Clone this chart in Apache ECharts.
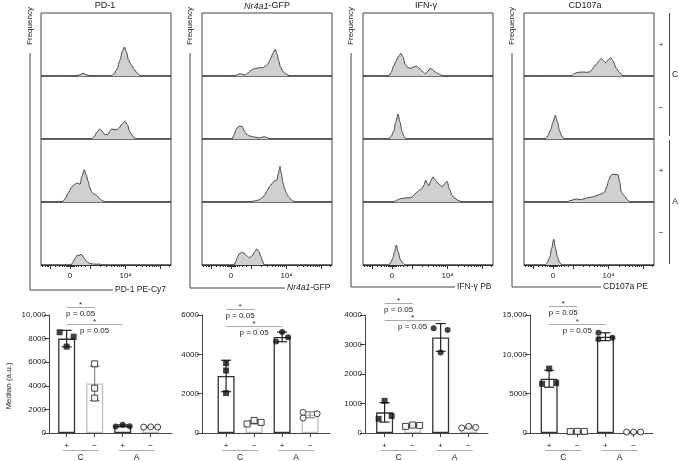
<!DOCTYPE html>
<html><head><meta charset="utf-8">
<script src="https://cdn.jsdelivr.net/npm/echarts@6/dist/echarts.min.js"></script>
<style>html,body{margin:0;padding:0;background:#fff}#c{width:679px;height:461px}</style>
</head><body><div id="c"></div>
<script>
// ================= DATA =================
const markers = ['PD-1', 'Nr4a1-GFP', 'IFN-γ', 'CD107a'];
const histAxisTitles = ['PD-1 PE-Cy7', 'Nr4a1-GFP', 'IFN-γ PB', 'CD107a PE'];
const conditions = ['+', '−', '+', '−'];
const groups = ['C', 'A'];
const histTickLabels = ['0', '10⁴'];
const histTickValues = [29, 84.6];

// histogram curves: [channel (display scale), normalized frequency], rows C+, C−, A+, A−
const histPD1 = [
  [[0,0],[34,0],[38,1],[42,2.7],[46,1],[50,0],[70,0],[73,2],[76,7],[79,16],[81.5,25],[83.5,29],[85.5,24],[87.5,16],[90,11.5],[93,7],[96,3],[99,0.5],[101,0],[130,0]],
  [[0,0],[50,0],[53,2],[56,7],[58.7,10],[61,8],[63,5],[66.7,4.3],[69,8],[70.7,10],[73,9.5],[75.7,9.3],[78,11],[81,15],[84,17.7],[86.5,14],[88.5,8],[90.7,4.3],[93,1.5],[95,0],[130,0]],
  [[0,0],[21,0],[24,3],[27.3,9],[30,14],[32.3,16.7],[35,18.5],[36.7,19],[39,17.7],[41,26],[43.3,32.3],[45.3,27],[47,21],[49,14],[50.7,10],[53,8],[55.7,6.7],[58,4],[60.7,1.7],[63,0.5],[65,0],[130,0]],
  [[0,0],[30,0],[32,3],[34,6.7],[36.3,10],[38,9.3],[40,10.7],[41.5,9.5],[43.3,6.7],[45.3,4],[47.3,2.3],[50,1.2],[52.3,1],[56,0.8],[59,1],[61.3,0],[130,0]]
];
const histNr4a1 = [
  [[0,0],[33,0],[35.5,1.5],[38.3,2.3],[41,1.5],[43.3,1],[46,3],[49,5.7],[52.3,7.3],[55,7.8],[57.3,8.3],[60.7,8.3],[63.5,10],[65.7,11.7],[67.5,15],[69,18.3],[71,23],[73.3,26.7],[75,22],[76.7,15],[78.5,9],[80.7,5],[82.7,3],[84.7,1.7],[87,0.5],[89,0],[130,0]],
  [[0,0],[30,0],[32,4],[34,9.3],[36,12],[37.5,12.7],[40,12.7],[41.2,10.5],[42.3,7.7],[44.5,5],[46.7,3.3],[49.5,2.6],[52.3,2],[55,1.5],[57.3,1],[60,1.8],[62.3,2.3],[64,1.8],[65.7,1],[67.5,0.3],[69,0],[130,0]],
  [[0,0],[40.7,0],[46,0.4],[50.7,0.7],[54,1.3],[57.3,2.3],[60,4],[62.3,6.7],[65,11],[67.3,15],[70,18.5],[72.3,21],[74.7,21.7],[76.3,28],[78,35.7],[79.3,29],[80.7,20],[82.7,13],[84.7,8.3],[87,4.5],[89,2.3],[91.5,0.8],[94,0],[130,0]],
  [[0,0],[32,0],[34,4],[35.7,8.3],[37.5,11.5],[39.7,12.7],[42,11.8],[44.5,9.5],[47.3,7.3],[50,9],[52.5,13],[54.7,16],[56.8,13.5],[59,8.3],[60.8,3.5],[62.3,0],[130,0]]
];
const histIFNg = [
  [[0,0],[25.7,0],[28,3.5],[30.7,10],[33,15],[35.5,20],[38,22.7],[40,19],[42.3,11.7],[44.5,8.8],[47.3,7.7],[50,8.8],[53.3,10],[56,8],[59,5],[62.3,2.3],[64.5,4.5],[67.3,7.7],[69.5,6.5],[72.3,4],[75,2.5],[78,1],[80.7,0],[130,0]],
  [[0,0],[25.7,0],[28,2.5],[30.7,7.7],[32.8,17],[35,25],[37,17],[39,7.7],[41,2.5],[43.3,0],[130,0]],
  [[0,0],[30.7,0],[33.5,1.8],[37.3,3.3],[42,4],[48,4.3],[51,7],[54,10],[56.5,11.8],[59,13.3],[61,17],[62.7,21.7],[64.2,19],[65.7,16],[67.8,21],[70,25],[72.3,22],[74.7,19],[77,17],[79,15],[81.5,18],[84,20.7],[86.5,13],[89,6.7],[92,3.5],[96,1.2],[100,0],[130,0]],
  [[0,0],[25.7,0],[27.8,2.5],[29.7,6.7],[31.5,13],[33.3,20],[35.2,13],[37.3,5.7],[39.8,1.8],[42.3,0],[130,0]]
];
const histCD107a = [
  [[0,0],[47.3,0],[50,2],[52.3,3.3],[55.5,3.8],[59,4],[62.3,3.7],[65.7,4],[68,6.5],[70.7,10],[73,12.5],[75.3,15.5],[77.3,17.3],[79.5,15.5],[81.7,13.3],[84,16],[86.7,18.3],[89,15],[92.3,7.7],[95.5,3.5],[99,0],[130,0]],
  [[0,0],[21.3,0],[24,3.5],[26.7,9.3],[29,17],[31.3,23.7],[33.5,17],[35.7,7.7],[38,2.5],[40.7,0],[130,0]],
  [[0,0],[42.3,0],[47,1.5],[50,2.5],[52.3,3],[55,2.6],[57.3,2.3],[60.5,3.3],[64,4.3],[67,4.8],[70.7,5.7],[73,6.5],[75.7,7.7],[78,8.5],[80.7,10],[82.7,15],[84.7,21.7],[86.5,26],[88,27.7],[91,27.7],[94,27.2],[95.7,20],[97.3,10],[99,7.8],[100.7,5.7],[103,2.5],[105.7,0],[130,0]],
  [[0,0],[21.3,0],[23.5,3],[25.7,7.7],[27.7,17],[29.7,25.7],[31.5,17],[33.3,8.3],[35.7,2.5],[38,0],[130,0]]
];

// bar panels: median (a.u.), SD, and individual replicates per condition (C+, C−, A+, A−)
const medianPD1 = [8000, 4200, 610, 510];
const sdPD1 = [700, 1450, 80, 15];
const pointsPD1 = [[8540, 7320, 8160], [5860, 3800, 2960], [560, 700, 570], [500, 520, 500]];
const medianNr4a1 = [2900, 545, 4885, 930];
const sdNr4a1 = [800, 90, 245, 150];
const pointsNr4a1 = [[3550, 3175, 2030], [460, 640, 540], [4650, 5140, 4870], [1045, 760, 980]];
const medianIFNg = [700, 250, 3240, 195];
const sdIFNg = [330, 25, 470, 25];
const pointsIFNg = [[480, 1090, 575], [225, 270, 257], [3550, 2725, 3490], [170, 225, 190]];
const medianCD107a = [6900, 195, 12240, 123];
const sdCD107a = [1080, 15, 500, 5];
const pointsCD107a = [[6250, 8190, 6340], [180, 210, 190], [12750, 11910, 12120], [120, 130, 120]];
const yTicksPD1 = [0, 2000, 4000, 6000, 8000, 10000];
const yTicksNr4a1 = [0, 2000, 4000, 6000];
const yTicksIFNg = [0, 1000, 2000, 3000, 4000];
const yTicksCD107a = [0, 5000, 10000, 15000];
const pLabel = 'p = 0.05';
const starLabel = '*';

// ================= LAYOUT / STYLE =================
const FONT = "'Liberation Sans', Arial, sans-serif";
const TXT = '#222';
const colLeft = [41, 202, 363, 524];
const rowTop = [13, 76, 139, 202];
const histW = 130, histH = 63;
const majorTicks = [9, 29, 49, 84.6, 119];
const minorTicks = [1.5, 4, 6, 7.5, 14, 18.5, 21.5, 23.5, 25, 26.2, 27.2, 28, 30, 30.8, 31.8, 33, 35, 37.5, 40.5, 44.5,
  59.5, 65.7, 70, 73.5, 76.2, 78.6, 80.6, 82.5, 95, 101, 105.5, 108.5, 111, 113.5, 115.5, 117.2, 128.5];
// jitter of replicate symbols (px) per condition
const jitterPD1 = [[-7, 0, 7], [0, 0, 0], [-7, 0, 7], [-7, 0, 7]];
const jitterNr4a1 = [[0, 0, 0], [-7, 0, 7], [-6, 0, 6], [-7, -7, 7]];
const jitterIFNg = [[-6, 0, 7], [-7, 0, 7], [-7, 0, 7], [-7, 0, 7]];
const jitterCD107a = [[-7, 0, 7], [-7, 0, 7], [-7, -7, 7], [-7, 0, 7]];

const histSets = [histPD1, histNr4a1, histIFNg, histCD107a];
const barPanels = [
  {median: medianPD1, sd: sdPD1, pts: pointsPD1, jit: jitterPD1, ticks: yTicksPD1, br: [10700, 9210], left: 49, width: 123, xmin: -0.63, xmax: 3.76},
  {median: medianNr4a1, sd: sdNr4a1, pts: pointsNr4a1, jit: jitterNr4a1, ticks: yTicksNr4a1, br: [6300, 5440], left: 202, width: 128, xmin: -0.86, xmax: 3.71},
  {median: medianIFNg, sd: sdIFNg, pts: pointsIFNg, jit: jitterIFNg, ticks: yTicksIFNg, br: [4416, 3830], left: 365, width: 123, xmin: -0.70, xmax: 3.69},
  {median: medianCD107a, sd: sdCD107a, pts: pointsCD107a, jit: jitterCD107a, ticks: yTicksCD107a, br: [16100, 13860], left: 530, width: 123, xmin: -0.68, xmax: 3.69}
];

const option = {animation: false, textStyle: {fontFamily: FONT}, grid: [], xAxis: [], yAxis: [], series: []};

// ---- histograms ----
histSets.forEach((set, c) => {
  set.forEach((curve, r) => {
    const gi = option.grid.length;
    option.grid.push({left: colLeft[c], top: rowTop[r], width: histW, height: histH, show: true,
      borderColor: '#444', borderWidth: 1, containLabel: false});
    const bottom = r === 3;
    const xi = option.xAxis.length;
    option.xAxis.push({type: 'value', gridIndex: gi, min: 0, max: histW, show: bottom,
      axisLine: {show: true, onZero: false, lineStyle: {color: '#333', width: 1}},
      axisTick: {show: true, inside: false, length: 4, customValues: majorTicks, lineStyle: {color: '#333'}},
      axisLabel: {show: true, customValues: histTickValues, fontSize: 8, color: TXT, margin: 7,
        formatter: v => histTickLabels[histTickValues.indexOf(v)] || ''},
      splitLine: {show: false}});
    if (bottom) {
      option.xAxis.push({type: 'value', gridIndex: gi, min: 0, max: histW, position: 'bottom',
        axisLine: {show: false, onZero: false}, axisLabel: {show: false}, splitLine: {show: false},
        axisTick: {show: true, length: 2, customValues: minorTicks, lineStyle: {color: '#333'}}});
    }
    const yi = option.yAxis.length;
    option.yAxis.push({type: 'value', gridIndex: gi, min: 0, max: histH, show: false,
      axisLine: {onZero: false}, splitLine: {show: false}});
    option.series.push({type: 'line', xAxisIndex: xi, yAxisIndex: yi, data: curve, smooth: 0.3,
      smoothMonotone: 'x', symbol: 'none', silent: true,
      lineStyle: {color: '#333', width: 0.9}, areaStyle: {color: '#d0d0d0', opacity: 1}});
  });
});

// ---- bar panels ----
const barSeriesIdx = [];
barPanels.forEach((p, k) => {
  const gi = option.grid.length;
  option.grid.push({left: p.left, top: 315, width: p.width, height: 118, containLabel: false});
  const xi = option.xAxis.length;
  option.xAxis.push({type: 'value', gridIndex: gi, min: p.xmin, max: p.xmax,
    axisLine: {show: true, onZero: false, lineStyle: {color: '#444', width: 1}},
    axisTick: {show: true, length: 4, customValues: [0, 1, 2, 3], lineStyle: {color: '#444'}},
    axisLabel: {show: true, customValues: [0, 1, 2, 3], fontSize: 8, color: TXT, margin: 9,
      formatter: v => conditions[Math.round(v)]},
    splitLine: {show: false}});
  const yi = option.yAxis.length;
  const ymax = p.ticks[p.ticks.length - 1];
  option.yAxis.push({type: 'value', gridIndex: gi, min: 0, max: ymax, interval: p.ticks[1],
    axisLine: {show: true, onZero: false, lineStyle: {color: '#444', width: 1}},
    axisTick: {show: true, length: 5, lineStyle: {color: '#444'}},
    axisLabel: {fontSize: 8, color: TXT, margin: 3,
      formatter: v => v >= 10000 ? (v / 1000) + ',000' : String(v)},
    splitLine: {show: false}});
  barSeriesIdx.push(option.series.length);
  option.series.push({type: 'bar', xAxisIndex: xi, yAxisIndex: yi, barWidth: 17, silent: true,
    data: p.median.map((v, i) => ({value: [i, v], itemStyle: {color: '#fff', borderColor: i % 2 ? '#bdbdbd' : '#333', borderWidth: 1.3}}))});
  for (let r = 0; r < 3; r++) {
    option.series.push({type: 'scatter', xAxisIndex: xi, yAxisIndex: yi, silent: true, z: 5,
      data: p.pts.map((vals, i) => ({value: [i, vals[r]], symbol: i < 2 ? 'rect' : 'circle',
        symbolSize: 6, symbolOffset: [p.jit[i][r], 0],
        itemStyle: i % 2 === 0 ? {color: '#111'} : {color: '#fff', borderColor: '#111', borderWidth: 1}}))});
  }
});

const chart = echarts.init(document.getElementById('c'), null, {renderer: 'canvas'});
chart.setOption(option);

// ================= ANNOTATIONS =================
const G = [];
function txt(x, y, text, o = {}) {
  G.push({type: 'text', x, y, rotation: o.rot || 0, silent: true,
    style: {text, fill: TXT, fontSize: o.size || 8, fontFamily: FONT, fontStyle: o.italic ? 'italic' : 'normal',
      align: o.align || 'center', verticalAlign: 'middle', rich: o.rich}});
}
function ln(x1, y1, x2, y2, color = '#444', w = 1, z = 0) {
  G.push({type: 'line', silent: true, z, shape: {x1, y1, x2, y2}, style: {stroke: color, lineWidth: w}});
}
const titleX = [105, 267, 426, 585];
const richI = {i: {fontStyle: 'italic', fontSize: 9, fontFamily: FONT, fill: TXT}, n: {fontSize: 9, fontFamily: FONT, fill: TXT}};
const richI8 = {i: {fontStyle: 'italic', fontSize: 8.5, fontFamily: FONT, fill: TXT}, n: {fontSize: 8.5, fontFamily: FONT, fill: TXT}};
markers.forEach((m, c) => {
  if (m.startsWith('Nr4a1')) txt(titleX[c], 6, '{i|Nr4a1}{n|-GFP}', {size: 9, rich: richI});
  else txt(titleX[c], 6, m, {size: 9});
});
const freqX = [30, 190, 351, 512];
const hY = [290, 288, 287, 287];
const hEnd = [113, 285, 455, 601];
histAxisTitles.forEach((t, c) => {
  txt(freqX[c], 26, 'Frequency', {rot: Math.PI / 2, size: 8});
  ln(freqX[c], 53, freqX[c], hY[c]);
  ln(freqX[c], hY[c], hEnd[c], hY[c]);
  if (t.startsWith('Nr4a1')) txt(hEnd[c] + 2, hY[c], '{i|Nr4a1}{n|-GFP}', {align: 'left', size: 8.5, rich: richI8});
  else txt(hEnd[c] + 2, hY[c], t, {align: 'left', size: 8.5});
});
// row group labels on the right
txt(661, 45, conditions[0]); txt(661, 108, conditions[1]);
ln(669.5, 13, 669.5, 136); txt(675, 75, groups[0], {size: 8.5});
txt(661, 171, conditions[2]); txt(661, 233, conditions[3]);
ln(669.5, 140, 669.5, 264); txt(675, 202, groups[1], {size: 8.5});
// y-axis title of bar panels
txt(9, 386, 'Median (a.u.)', {rot: Math.PI / 2, size: 8});
// error bars (mean ± SD), group underline + labels, significance brackets — placed through each panel's scales
barSeriesIdx.forEach((si, k) => {
  const p = barPanels[k];
  const toPx = (x, y) => chart.convertToPixel({seriesIndex: si}, [x, y]);
  p.median.forEach((m, i) => {
    const hi = toPx(i, m + p.sd[i]), lo = toPx(i, m - p.sd[i]);
    const col = i % 2 ? '#8a8a8a' : '#222';
    ln(hi[0], hi[1], lo[0], lo[1], col, 1.2, 3);
    ln(hi[0] - 5, hi[1], hi[0] + 5, hi[1], col, 1.2, 3);
    ln(lo[0] - 5, lo[1], lo[0] + 5, lo[1], col, 1.2, 3);
  });
  groups.forEach((g, gi) => {
    const a = toPx(gi * 2, 0), b = toPx(gi * 2 + 1, 0);
    ln(a[0] - 4, 450.5, b[0] + 4, 450.5, '#aaa', 1);
    txt((a[0] + b[0]) / 2, 457.5, g, {size: 8.5});
  });
  [[0, 1, p.br[0]], [0, 2, p.br[1]]].forEach(([i0, i1, yv]) => {
    const a = toPx(i0, yv), b = toPx(i1, yv);
    const y = Math.round(a[1]) + 0.5;
    ln(a[0], y, b[0], y, '#aaa', 1);
    txt((a[0] + b[0]) / 2, y - 2.5, starLabel, {size: 8});
    txt((a[0] + b[0]) / 2, y + 6, pLabel, {size: 8});
  });
});
chart.setOption({graphic: {elements: G}});
</script></body></html>
